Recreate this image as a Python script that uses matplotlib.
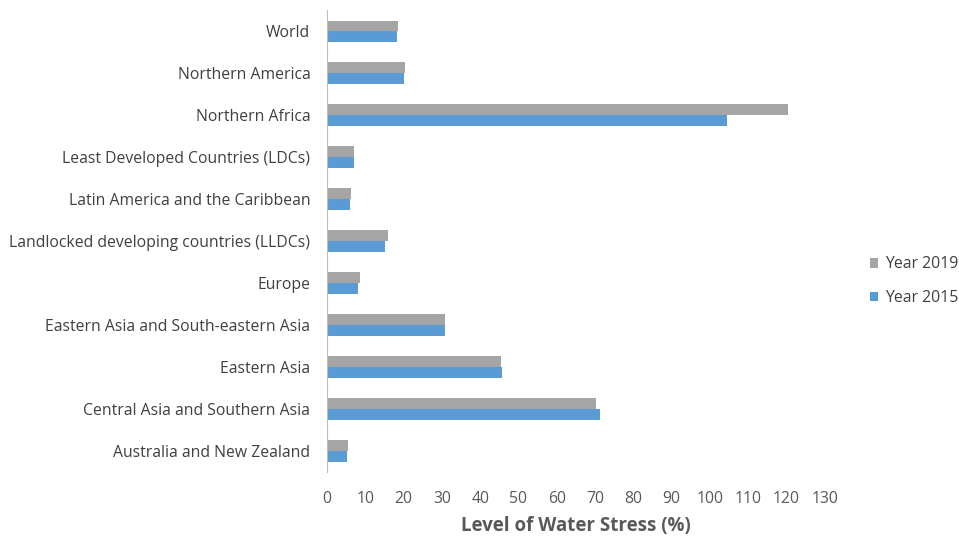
import matplotlib.pyplot as plt
import numpy as np

regions = [
    "World",
    "Northern America",
    "Northern Africa",
    "Least Developed Countries (LDCs)",
    "Latin America and the Caribbean",
    "Landlocked developing countries (LLDCs)",
    "Europe",
    "Eastern Asia and South-eastern Asia",
    "Eastern Asia",
    "Central Asia and Southern Asia",
    "Australia and New Zealand",
]
stress_2019 = [18.5, 20.3, 120.5, 7.0, 6.2, 15.8, 8.5, 30.7, 45.5, 70.2, 5.5]
stress_2015 = [18.3, 20.0, 104.5, 7.0, 5.9, 15.1, 8.2, 30.7, 45.7, 71.2, 5.2]
x_ticks = np.arange(0, 131, 10)

plt.rcParams["font.family"] = ["Open Sans", "DejaVu Sans"]

fig = plt.figure(figsize=(9.59, 5.38), dpi=100)
ax = fig.add_axes([0.341, 0.123, 0.519, 0.858])

y = np.arange(len(regions))
h = 0.255
ax.barh(y - h / 2, stress_2019, height=h, color="#A5A5A5", label="Year 2019")
ax.barh(y + h / 2, stress_2015, height=h, color="#5B9BD5", label="Year 2015")

ax.set_ylim(len(regions) - 0.5, -0.5)
ax.set_xlim(0, 130)
ax.set_yticks(y)
ax.set_yticklabels(regions, fontsize=11.3, color="#404040")
ax.set_xticks(x_ticks)
ax.set_xticklabels([str(t) for t in x_ticks], fontsize=11.3, color="#595959")
ax.tick_params(axis="y", length=0, pad=12)
ax.tick_params(axis="x", length=0, pad=14)

for side in ["top", "right", "bottom"]:
    ax.spines[side].set_visible(False)
ax.spines["left"].set_color("#BFBFBF")

ax.set_xlabel("Level of Water Stress (%)", fontsize=13.5, fontweight="bold",
              color="#595959", labelpad=6)

ax.legend(loc="center left", bbox_to_anchor=(1.068, 0.413), frameon=False,
          fontsize=11.4, handlelength=0.55, handleheight=0.55, handletextpad=0.4,
          borderpad=0.2, labelspacing=1.1, labelcolor="#404040")

fig.savefig("out.png", dpi=100)
